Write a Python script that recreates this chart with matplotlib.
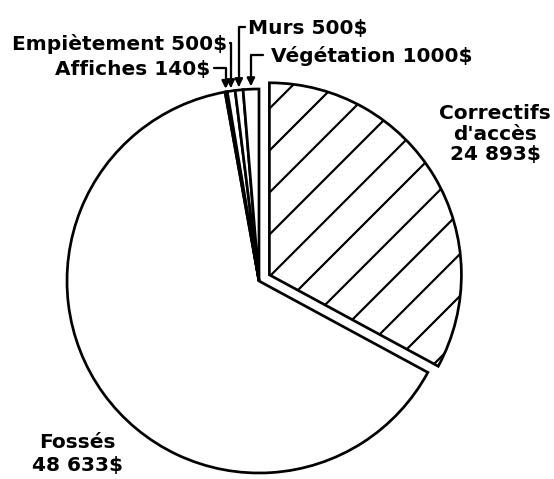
import numpy as np
import matplotlib
matplotlib.use("Agg")
import matplotlib.pyplot as plt

# ---- data ----
categories = ["Correctifs\nd'accès", "Fossés", "Affiches", "Empiètement", "Murs", "Végétation"]
amounts = [24893, 48633, 140, 500, 500, 1000]
amount_labels = ["24 893$", "48 633$", "140$", "500$", "500$", "1000$"]
hatches = ["/", "", "", "", "", ""]
explode_frac = [0.063, 0, 0, 0, 0, 0]

W, H, DPI = 554, 479, 126
plt.rcParams['hatch.linewidth'] = 1.25
plt.rcParams['font.family'] = ['DejaVu Sans']

fig = plt.figure(figsize=(W / DPI, H / DPI), dpi=DPI, facecolor='white')
ax = fig.add_axes([0, 0, 1, 1])

R = 192
CX, CY = 259, H - 281
lw = 1.55

wedges, _ = ax.pie(amounts, startangle=90, counterclock=False, radius=R,
                   center=(CX, CY), explode=[e * R for e in explode_frac],
                   colors=['white'] * len(amounts),
                   wedgeprops=dict(edgecolor='black', linewidth=lw))
for w, h in zip(wedges, hatches):
    if h:
        w.set_hatch(h)

ax.set_xlim(0, W)
ax.set_ylim(0, H)
ax.set_aspect('equal')
ax.axis('off')

fs = 11.5
tkw = dict(fontsize=fs, fontweight='bold', color='black')

def tip(i, extra=3):
    w = wedges[i]
    a = np.deg2rad((w.theta1 + w.theta2) / 2)
    return (w.center[0] + (w.r + extra) * np.cos(a),
            w.center[1] + (w.r + extra) * np.sin(a))

arrow_kw = dict(arrowstyle='-|>', color='black', lw=1.3, mutation_scale=9,
                shrinkA=0, shrinkB=0,
                connectionstyle='angle,angleA=0,angleB=90,rad=0')

# small slice labels: (index, text anchor x, y_px, ha, stub start x)
small = [
    (5, 271, 56, 'left', 263),
    (4, 248, 28, 'left', 245),
    (3, 227, 44, 'right', 230),
    (2, 210, 69, 'right', 214),
]
for i, tx, ty, ha, sx in small:
    name = categories[i]
    ax.text(tx, H - ty, f"{name} {amount_labels[i]}", ha=ha, va='center', **tkw)
    ax.annotate('', xy=tip(i), xytext=(sx, H - ty + 1), arrowprops=arrow_kw)

# big labels
ax.text(495, H - 134, f"{categories[0]}\n{amount_labels[0]}", ha='center',
        va='center', linespacing=1.1, **tkw)
ax.text(77, H - 454, f"{categories[1]}\n{amount_labels[1]}", ha='center',
        va='center', linespacing=1.2, **tkw)

fig.savefig('out.png', dpi=DPI, facecolor='white')
